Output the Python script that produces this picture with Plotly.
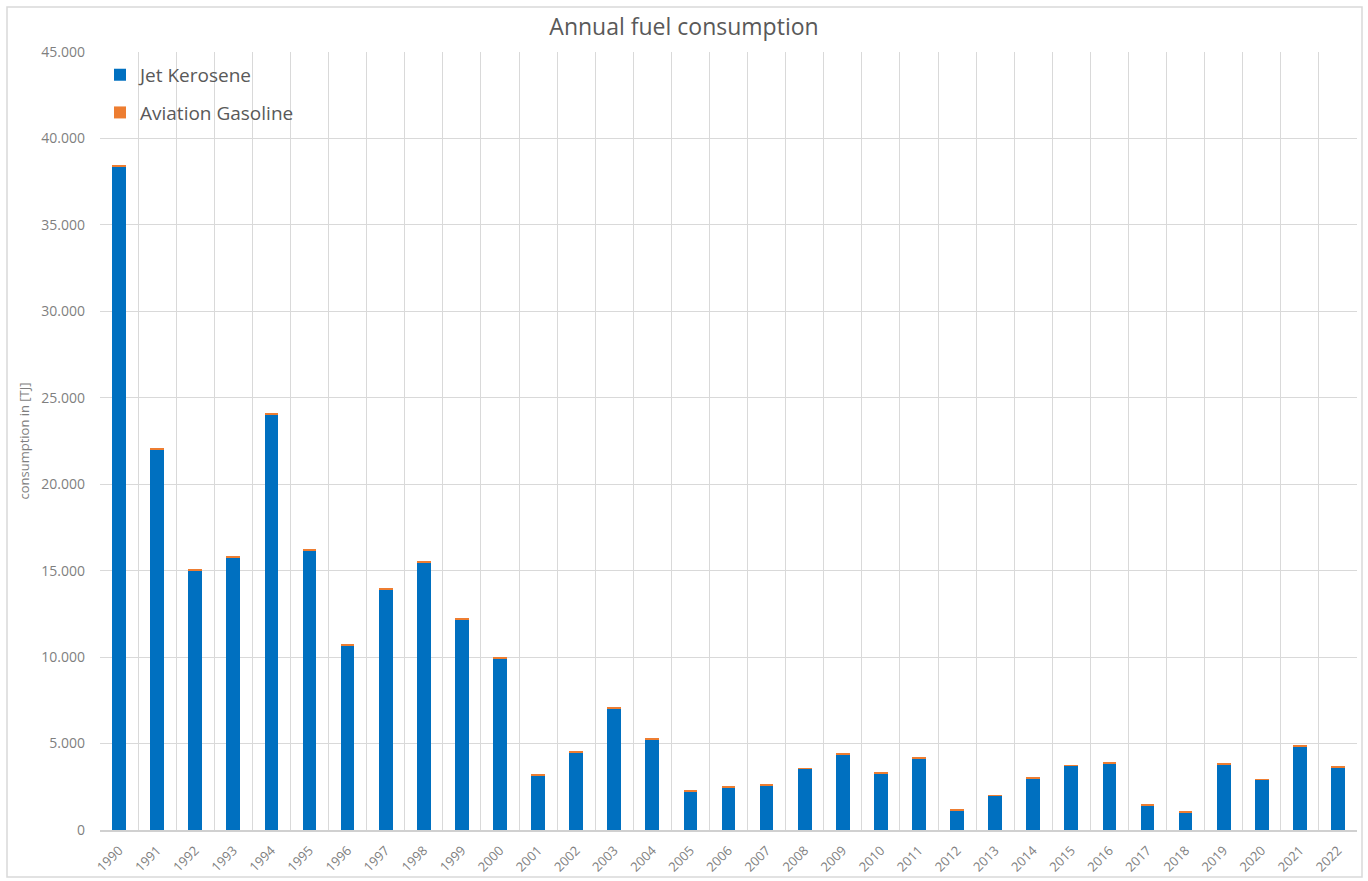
import plotly.graph_objects as go

years = [str(y) for y in range(1990, 2023)]
jet_kerosene = [38400, 22000, 15000, 15750, 24050, 16150, 10700, 13900, 15500, 12200,
                9900, 3150, 4480, 7050, 5250, 2210, 2450, 2550, 3550, 4390,
                3250, 4150, 1140, 2000, 3000, 3720, 3850, 1430, 1000, 3760,
                2900, 4850, 3600]
aviation_gasoline = [70, 60, 60, 60, 70, 60, 50, 60, 60, 60,
                     50, 60, 60, 60, 60, 60, 60, 60, 20, 60,
                     60, 20, 20, 20, 20, 20, 60, 20, 70, 60,
                     20, 60, 60]

title_grey = "#595959"
tick_grey = "#7F7F7F"
font_family = "'Open Sans', sans-serif"

fig = go.Figure()
fig.add_trace(go.Bar(x=years, y=jet_kerosene, name="Jet Kerosene", legendgroup="a",
                     marker=dict(color="#0070C0", line=dict(width=0))))
fig.add_trace(go.Bar(x=years, y=aviation_gasoline, name="Aviation Gasoline", legendgroup="b",
                     marker=dict(color="#ED7D31", line=dict(width=0))))

fig.update_layout(
    barmode="stack",
    bargap=0.64,
    width=1368, height=881,
    paper_bgcolor="white", plot_bgcolor="white",
    separators=",.",
    margin=dict(l=100, r=11, t=52, b=51),
    font=dict(family=font_family, color=title_grey),
    title=dict(text="Annual fuel consumption", x=0.5, xanchor="center",
               y=1 - 27 / 881, yanchor="middle",
               font=dict(size=23, color=title_grey, family=font_family)),
    legend=dict(x=0.0, y=0.995, xanchor="left", yanchor="top",
                traceorder="grouped", tracegroupgap=10,
                bgcolor="rgba(255,255,255,0)", font=dict(size=19, color=title_grey),
                itemwidth=30),
    showlegend=True,
    shapes=[dict(type="rect", xref="paper", yref="paper",
                 x0=-93 / 1257, x1=1 + 5 / 1257, y0=-47 / 778, y1=1 + 45 / 778,
                 line=dict(color="#D9D9D9", width=1.5), fillcolor="rgba(0,0,0,0)",
                 layer="below")],
)
fig.update_xaxes(type="category", tickson="boundaries", showgrid=True,
                 gridcolor="#D9D9D9", gridwidth=1, tickangle=-45,
                 tickfont=dict(size=13, color=tick_grey), ticks="",
                 ticklabelstandoff=6, automargin=False,
                 showline=True, linecolor="#D0D0D0", linewidth=1.5,
                 mirror=False)
fig.update_yaxes(range=[0, 45000], dtick=5000, tickformat=",d",
                 showgrid=True, gridcolor="#D9D9D9", gridwidth=1,
                 zeroline=False, showline=False, automargin=False,
                 tickfont=dict(size=14, color=tick_grey),
                 ticklabelstandoff=14,
                 title=dict(text="consumption in [TJ]", font=dict(size=13, color=tick_grey),
                            standoff=8))

fig.write_html("out.html", post_script="document.body.style.margin='0';",
               config={"displayModeBar": False})
